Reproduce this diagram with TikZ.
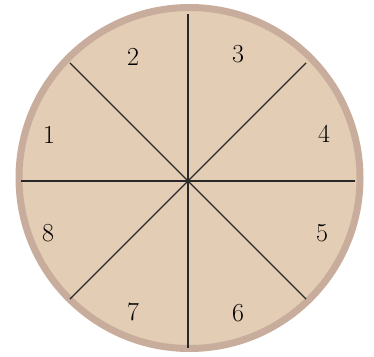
\documentclass[tikz,border=0pt]{standalone}
\definecolor{fillc}{RGB}{227,205,180}
\definecolor{rimc}{RGB}{200,173,157}
\definecolor{linec}{RGB}{40,40,40}
\begin{document}
\begin{tikzpicture}[x=1pt,y=-1pt,
  spoke/.style={draw=linec,line width=1.4pt},
  num/.style={font=\fontsize{26}{26}\selectfont,text=black,inner sep=0pt}]
\useasboundingbox (0,0) rectangle (374,356);
\node[circle,draw=rimc,fill=fillc,line width=7pt,minimum size=341pt,inner sep=0pt] (wheel) at (189.5,178) {};
\coordinate (c) at (188,181);
\foreach \a in {0,45,...,315}{
  \draw[spoke] (c) -- ++({167*cos(\a)},{-167*sin(\a)});
}
\node[num] (n1) at (49,135) {1};
\node[num] (n2) at (133,57) {2};
\node[num] (n3) at (238,54) {3};
\node[num] (n4) at (324,134) {4};
\node[num] (n5) at (322,233) {5};
\node[num] (n6) at (238,313) {6};
\node[num] (n7) at (133,312) {7};
\node[num] (n8) at (48,233) {8};
\end{tikzpicture}
\end{document}
